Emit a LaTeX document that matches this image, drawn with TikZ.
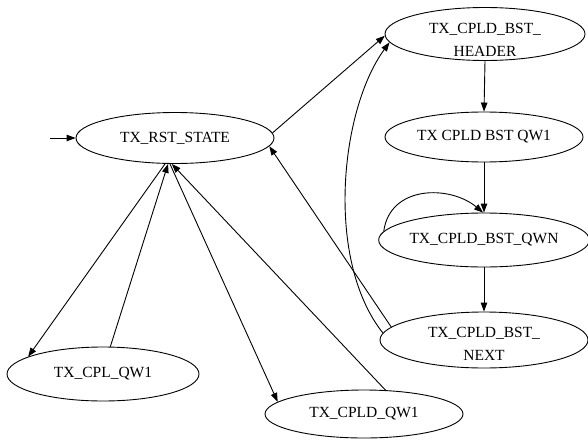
\documentclass[tikz,border=0pt]{standalone}
\usepackage{fontspec}
\setmainfont{Liberation Serif}
\usetikzlibrary{shapes.geometric,arrows.meta}
\begin{document}
\begin{tikzpicture}[x=1pt,y=-1pt,
  st/.style={ellipse, draw, line width=0.9pt, inner sep=0pt, font=\fontsize{15.5}{22}\selectfont},
  lbl/.style={font=\fontsize{15.5}{23}\selectfont, align=center, inner sep=0pt},
  ed/.style={line width=0.9pt, -{Triangle[length=9pt,width=6.5pt]}}]
\useasboundingbox (0,0) rectangle (588,439);
% states
\node[st, minimum width=198pt, minimum height=51pt] (rst) at (175,138) {TX\_RST\_STATE};
\node[st, minimum width=200pt, minimum height=53pt] (header) at (485,34) {};
\node[lbl] (headertxt) at (485,40) {TX\_CPLD\_BST\_\\HEADER};
\node[st, minimum width=198pt, minimum height=50pt] (qw1) at (484,137) {TX CPLD BST QW1};
\node[st, minimum width=205pt, minimum height=54pt] (qwn) at (484,240) {TX\_CPLD\_BST\_QWN};
\node[st, minimum width=208pt, minimum height=56pt] (next) at (484,340) {};
\node[lbl] (nexttxt) at (484,344) {TX\_CPLD\_BST\_\\NEXT};
\node[st, minimum width=192pt, minimum height=54pt] (cpl) at (103,374) {TX\_CPL\_QW1};
\node[st, minimum width=198pt, minimum height=48pt] (cpld) at (364,414) {TX\_CPLD\_QW1};
% connectors
\coordinate (start) at (50,138);
\draw[ed] (start) -- (rst.west);
\draw[ed] (rst.3) -- (header.181);
\draw[ed] (header.south) -- (qw1.north);
\draw[ed] (qw1.south) -- (qwn.north);
\draw[ed] (qwn.175) .. controls (390,185) and (450,185) .. (qwn.92);
\draw[ed] (qwn.south) -- (next.north);
\draw[ed] (next.176) .. controls (325,260) and (340,110) .. (header.185);
\draw[ed] (next.172) -- (rst.-5);
\draw[ed] (rst.249) -- (cpl.167);
\draw[ed] (cpl.75) -- (rst.255);
\draw[ed] (rst.259) -- (cpld.172);
\draw[ed] (cpld.48) -- (rst.263);
\end{tikzpicture}
\end{document}
